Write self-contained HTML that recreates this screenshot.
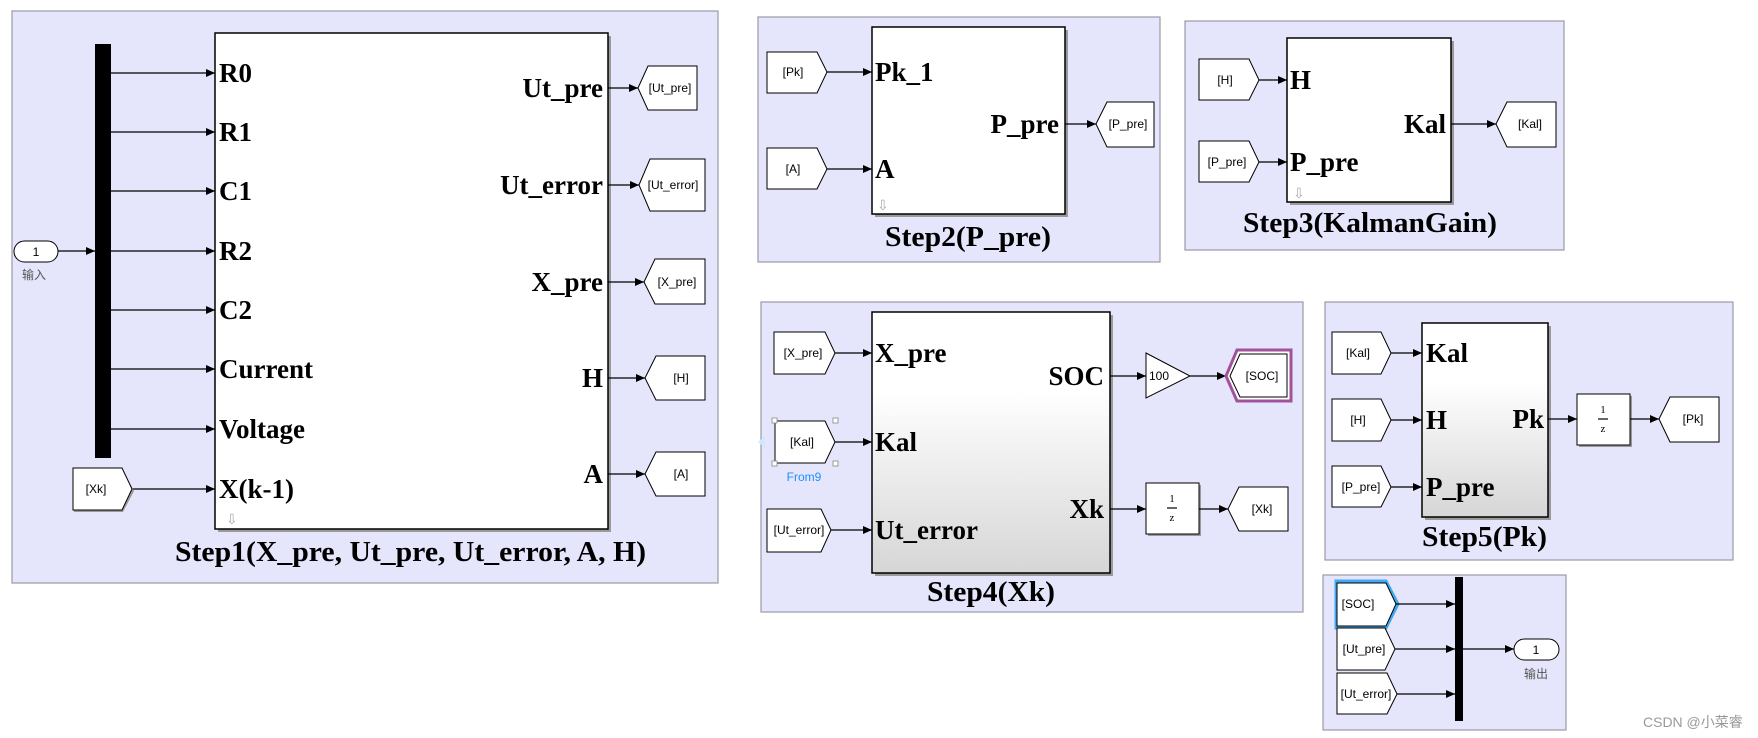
<!DOCTYPE html>
<html><head><meta charset="utf-8"><style>
html,body{margin:0;padding:0;background:#fff;}
svg{display:block;}
.p{fill:#e5e5fb;stroke:#9a9aa8;stroke-width:1.2;}
.b{fill:#fff;stroke:#000;stroke-width:1.5;}
.sh{fill:#9a9a9a;}
.tag{fill:#fff;stroke:#000;stroke-width:1;}
.tt{font-family:"Liberation Sans",sans-serif;font-size:12px;fill:#000;}
.pl{font-family:"Liberation Serif",serif;font-weight:bold;font-size:27px;fill:#000;}
.st{font-family:"Liberation Serif",serif;font-weight:bold;font-size:28px;fill:#000;}
line,polyline{stroke:#000;stroke-width:1.2;fill:none;}
</style></head><body>
<svg width="1758" height="738" viewBox="0 0 1758 738" xmlns="http://www.w3.org/2000/svg">
<defs>
<marker id="a" markerWidth="10" markerHeight="10" refX="9" refY="5" orient="auto" markerUnits="userSpaceOnUse"><path d="M0,1 L9,5 L0,9 z" fill="#000"/></marker>
<linearGradient id="g" x1="0" y1="0" x2="0" y2="1"><stop offset="0" stop-color="#fff"/><stop offset="0.3" stop-color="#fff"/><stop offset="1" stop-color="#d6d6d6"/></linearGradient>
</defs>

<!-- Panel 1 -->
<rect class="p" x="12" y="11" width="706" height="572"/>
<rect class="sh" x="218" y="36" width="393" height="496"/>
<rect class="b" x="215" y="33" width="393" height="496"/>
<rect x="95" y="44" width="16" height="414" fill="#000"/>
<rect x="14" y="241" width="44" height="21" rx="10.5" fill="#fff" stroke="#000"/>
<text class="tt" x="36" y="256" text-anchor="middle">1</text>
<text x="22" y="279" font-family="'Liberation Sans','Noto Sans CJK SC',sans-serif" font-size="12" fill="#555">输入</text>
<line x1="58" y1="251" x2="95" y2="251" marker-end="url(#a)"/>
<g marker-end="url(#a)">
<line x1="111" y1="73" x2="215" y2="73"/><line x1="111" y1="132" x2="215" y2="132"/>
<line x1="111" y1="191" x2="215" y2="191"/><line x1="111" y1="251" x2="215" y2="251"/>
<line x1="111" y1="310" x2="215" y2="310"/><line x1="111" y1="369" x2="215" y2="369"/>
<line x1="111" y1="429" x2="215" y2="429"/><line x1="132" y1="489" x2="215" y2="489"/>
</g>
<g class="pl">
<text x="219" y="82">R0</text><text x="219" y="141">R1</text><text x="219" y="200">C1</text>
<text x="219" y="260">R2</text><text x="219" y="319">C2</text><text x="219" y="378">Current</text>
<text x="219" y="438">Voltage</text><text x="219" y="498">X(k-1)</text>
</g>
<polygon points="74,470 123,470 134,491 123,512 74,512" fill="#9a9a9a"/>
<polygon class="tag" points="73,468 122,468 132,489 122,510 73,510"/>
<text class="tt" x="96" y="493" text-anchor="middle">[Xk]</text>
<text x="226" y="524" font-size="14" fill="#aaa" font-family="Liberation Sans">⇩</text>
<g class="pl" text-anchor="end">
<text x="603" y="97">Ut_pre</text><text x="603" y="194">Ut_error</text><text x="603" y="291">X_pre</text>
<text x="603" y="387">H</text><text x="603" y="483">A</text>
</g>
<g marker-end="url(#a)">
<line x1="608" y1="88" x2="638" y2="88"/><line x1="608" y1="185" x2="639" y2="185"/>
<line x1="608" y1="282" x2="644" y2="282"/><line x1="608" y1="378" x2="645" y2="378"/>
<line x1="608" y1="474" x2="645" y2="474"/>
</g>
<g class="tag">
<polygon points="638,88 648,66 697,66 697,110 648,110"/>
<polygon points="639,185 650,159 705,159 705,211 650,211"/>
<polygon points="644,282 655,259 705,259 705,304 655,304"/>
<polygon points="645,378 656,356 705,356 705,400 656,400"/>
<polygon points="645,474 656,452 705,452 705,496 656,496"/>
</g>
<g class="tt" text-anchor="middle">
<text x="670" y="92">[Ut_pre]</text><text x="673" y="189">[Ut_error]</text><text x="677" y="286">[X_pre]</text>
<text x="681" y="382">[H]</text><text x="681" y="478">[A]</text>
</g>
<text class="st" x="175" y="561" textLength="471" lengthAdjust="spacingAndGlyphs">Step1(X_pre, Ut_pre, Ut_error, A, H)</text>

<!-- Panel 2 -->
<rect class="p" x="758" y="17" width="402" height="245"/>
<rect class="sh" x="875" y="30" width="193" height="187"/>
<rect class="b" x="872" y="27" width="193" height="187"/>
<polygon class="tag" points="767,52 817,52 827,72 817,93 767,93"/>
<polygon class="tag" points="767,148 817,148 827,169 817,189 767,189"/>
<text class="tt" x="793" y="76" text-anchor="middle">[Pk]</text>
<text class="tt" x="793" y="173" text-anchor="middle">[A]</text>
<line x1="827" y1="72" x2="872" y2="72" marker-end="url(#a)"/>
<line x1="827" y1="169" x2="872" y2="169" marker-end="url(#a)"/>
<text class="pl" x="875" y="81">Pk_1</text><text class="pl" x="875" y="178">A</text>
<text class="pl" x="1059" y="133" text-anchor="end">P_pre</text>
<line x1="1065" y1="124" x2="1096" y2="124" marker-end="url(#a)"/>
<polygon class="tag" points="1096,124 1107,102 1154,102 1154,147 1107,147"/>
<text class="tt" x="1128" y="128" text-anchor="middle">[P_pre]</text>
<text x="877" y="210" font-size="14" fill="#aaa" font-family="Liberation Sans">⇩</text>
<text class="st" x="885" y="246" textLength="166" lengthAdjust="spacingAndGlyphs">Step2(P_pre)</text>

<!-- Panel 3 -->
<rect class="p" x="1185" y="21" width="379" height="229"/>
<rect class="sh" x="1290" y="41" width="164" height="164"/>
<rect class="b" x="1287" y="38" width="164" height="164"/>
<polygon class="tag" points="1199,59 1249,59 1259,80 1249,100 1199,100"/>
<polygon class="tag" points="1199,141 1249,141 1259,162 1249,182 1199,182"/>
<text class="tt" x="1225" y="84" text-anchor="middle">[H]</text>
<text class="tt" x="1227" y="166" text-anchor="middle">[P_pre]</text>
<line x1="1259" y1="80" x2="1287" y2="80" marker-end="url(#a)"/>
<line x1="1259" y1="162" x2="1287" y2="162" marker-end="url(#a)"/>
<text class="pl" x="1290" y="89">H</text><text class="pl" x="1290" y="171">P_pre</text>
<text class="pl" x="1446" y="133" text-anchor="end">Kal</text>
<line x1="1451" y1="124" x2="1496" y2="124" marker-end="url(#a)"/>
<polygon class="tag" points="1496,124 1507,102 1556,102 1556,147 1507,147"/>
<text class="tt" x="1530" y="128" text-anchor="middle">[Kal]</text>
<text x="1293" y="198" font-size="14" fill="#aaa" font-family="Liberation Sans">⇩</text>
<text class="st" x="1243" y="232" textLength="254" lengthAdjust="spacingAndGlyphs">Step3(KalmanGain)</text>

<!-- Panel 4 -->
<rect class="p" x="761" y="302" width="542" height="310"/>
<rect class="sh" x="875" y="315" width="238" height="261"/>
<rect x="872" y="312" width="238" height="261" fill="url(#g)" stroke="#000" stroke-width="1.5"/>
<polygon class="tag" points="774,332 825,332 835,353 825,374 774,374"/>
<polygon class="tag" points="775,421 825,421 835,442 825,463 775,463"/>
<polygon class="tag" points="767,509 821,509 831,530 821,552 767,552"/>
<g fill="#fff" stroke="#888" stroke-width="0.8"><rect x="772" y="418" width="5" height="5"/><rect x="833" y="418" width="5" height="5"/><rect x="772" y="461" width="5" height="5"/><rect x="833" y="461" width="5" height="5"/></g>
<polygon points="758,442 765,436 765,448" fill="#cfe8ff"/>
<text class="tt" x="803" y="357" text-anchor="middle">[X_pre]</text>
<text class="tt" x="802" y="446" text-anchor="middle">[Kal]</text>
<text class="tt" x="799" y="534" text-anchor="middle">[Ut_error]</text>
<text x="804" y="481" text-anchor="middle" font-family="Liberation Sans" font-size="12" fill="#1e90ff">From9</text>
<g marker-end="url(#a)">
<line x1="835" y1="353" x2="872" y2="353"/><line x1="835" y1="442" x2="872" y2="442"/><line x1="831" y1="530" x2="872" y2="530"/>
</g>
<text class="pl" x="875" y="362">X_pre</text><text class="pl" x="875" y="451">Kal</text><text class="pl" x="875" y="539">Ut_error</text>
<text class="pl" x="1104" y="385" text-anchor="end">SOC</text>
<text class="pl" x="1104" y="518" text-anchor="end">Xk</text>
<line x1="1110" y1="376" x2="1146" y2="376" marker-end="url(#a)"/>
<polygon points="1146,353 1190,376 1146,398" fill="#fff" stroke="#000"/>
<text class="tt" x="1149" y="380">100</text>
<line x1="1190" y1="376" x2="1226" y2="376" marker-end="url(#a)"/>
<polygon points="1226,376 1237,350 1291,350 1291,401 1237,401" fill="#fff" stroke="#a0529a" stroke-width="3"/>
<polygon class="tag" points="1230,376 1240,354 1287,354 1287,397 1240,397"/>
<text class="tt" x="1262" y="380" text-anchor="middle">[SOC]</text>
<line x1="1110" y1="509" x2="1146" y2="509" marker-end="url(#a)"/>
<rect class="sh" x="1148" y="485" width="53" height="51"/>
<rect x="1146" y="483" width="53" height="51" fill="#fff" stroke="#000"/>
<text x="1172" y="502" text-anchor="middle" font-family="Liberation Serif" font-size="11">1</text>
<line x1="1167" y1="508" x2="1177" y2="508" stroke-width="0.8"/>
<text x="1172" y="521" text-anchor="middle" font-family="Liberation Serif" font-size="11">z</text>
<line x1="1199" y1="509" x2="1228" y2="509" marker-end="url(#a)"/>
<polygon class="tag" points="1228,509 1239,487 1288,487 1288,531 1239,531"/>
<text class="tt" x="1262" y="513" text-anchor="middle">[Xk]</text>
<text class="st" x="927" y="601" textLength="128" lengthAdjust="spacingAndGlyphs">Step4(Xk)</text>

<!-- Panel 5 -->
<rect class="p" x="1325" y="302" width="408" height="258"/>
<rect class="sh" x="1425" y="326" width="126" height="194"/>
<rect x="1422" y="323" width="126" height="194" fill="url(#g)" stroke="#000" stroke-width="1.5"/>
<polygon class="tag" points="1332,332 1381,332 1391,353 1381,374 1332,374"/>
<polygon class="tag" points="1332,399 1381,399 1391,420 1381,441 1332,441"/>
<polygon class="tag" points="1332,466 1381,466 1391,487 1381,507 1332,507"/>
<text class="tt" x="1358" y="357" text-anchor="middle">[Kal]</text>
<text class="tt" x="1358" y="424" text-anchor="middle">[H]</text>
<text class="tt" x="1361" y="491" text-anchor="middle">[P_pre]</text>
<g marker-end="url(#a)">
<line x1="1391" y1="353" x2="1422" y2="353"/><line x1="1391" y1="420" x2="1422" y2="420"/><line x1="1391" y1="487" x2="1422" y2="487"/>
</g>
<text class="pl" x="1426" y="362">Kal</text><text class="pl" x="1426" y="429">H</text><text class="pl" x="1426" y="496">P_pre</text>
<text class="pl" x="1544" y="428" text-anchor="end">Pk</text>
<line x1="1548" y1="419" x2="1577" y2="419" marker-end="url(#a)"/>
<rect class="sh" x="1579" y="396" width="53" height="51"/>
<rect x="1577" y="394" width="53" height="51" fill="#fff" stroke="#000"/>
<text x="1603" y="413" text-anchor="middle" font-family="Liberation Serif" font-size="11">1</text>
<line x1="1598" y1="419" x2="1608" y2="419" stroke-width="0.8"/>
<text x="1603" y="432" text-anchor="middle" font-family="Liberation Serif" font-size="11">z</text>
<line x1="1630" y1="419" x2="1659" y2="419" marker-end="url(#a)"/>
<polygon class="tag" points="1659,419 1670,397 1719,397 1719,442 1670,442"/>
<text class="tt" x="1693" y="423" text-anchor="middle">[Pk]</text>
<text class="st" x="1422" y="546" textLength="125" lengthAdjust="spacingAndGlyphs">Step5(Pk)</text>

<!-- Panel 6 -->
<rect class="p" x="1323" y="575" width="243" height="155"/>
<rect x="1455" y="577" width="8" height="144" fill="#000"/>
<polygon points="1336,581 1386,581 1398,604 1386,628 1336,628" fill="none" stroke="#3fa9f5" stroke-width="3"/>
<polygon class="tag" points="1337,583 1386,583 1396,604 1386,626 1337,626"/>
<polygon class="tag" points="1337,628 1385,628 1395,649 1385,670 1337,670"/>
<polygon class="tag" points="1337,673 1387,673 1397,694 1387,714 1337,714"/>
<text class="tt" x="1358" y="608" text-anchor="middle">[SOC]</text>
<text class="tt" x="1364" y="653" text-anchor="middle">[Ut_pre]</text>
<text class="tt" x="1366" y="698" text-anchor="middle">[Ut_error]</text>
<g marker-end="url(#a)">
<line x1="1396" y1="604" x2="1455" y2="604"/><line x1="1395" y1="649" x2="1455" y2="649"/><line x1="1397" y1="694" x2="1455" y2="694"/>
<line x1="1463" y1="649" x2="1514" y2="649"/>
</g>
<rect x="1514" y="639" width="45" height="21" rx="10.5" fill="#fff" stroke="#000"/>
<text class="tt" x="1536" y="654" text-anchor="middle">1</text>
<text x="1536" y="678" text-anchor="middle" font-family="'Liberation Sans','Noto Sans CJK SC',sans-serif" font-size="12" fill="#555">输出</text>

<text x="1643" y="727" font-family="'Liberation Sans','Noto Sans CJK SC',sans-serif" font-size="14" fill="#999">CSDN @小菜睿</text>
</svg>
</body></html>
